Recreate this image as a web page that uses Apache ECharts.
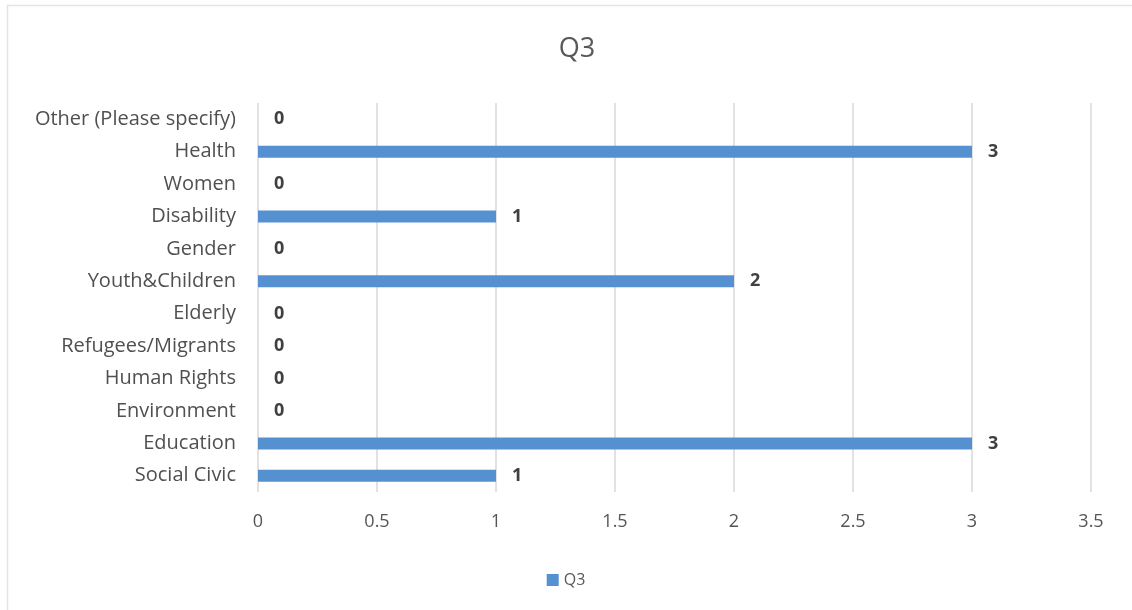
<!DOCTYPE html>
<html>
<head>
<meta charset="utf-8">
<script src="https://cdn.jsdelivr.net/npm/echarts@6/dist/echarts.min.js"></script>
<style>
html,body{margin:0;padding:0;background:#fff;}
#chart{width:1132px;height:610px;}
</style>
</head>
<body>
<div id="chart"></div>
<script>
const categories = ['Social Civic','Education','Environment','Human Rights','Refugees/Migrants','Elderly','Youth&Children','Gender','Disability','Women','Health','Other (Please specify)'];
const values = [1,3,0,0,0,0,2,0,1,0,3,0];
const seriesName = 'Q3';
const titleText = 'Q3';

const chart = echarts.init(document.getElementById('chart'));
const font = '"Open Sans", "Noto Sans", sans-serif';
chart.setOption({
  animation: false,
  graphic: [{
    type: 'rect',
    shape: {x: 7.5, y: 5.5, width: 1200, height: 700},
    style: {fill: 'none', stroke: '#e4e4e4', lineWidth: 1.5},
    silent: true
  }],
  title: {
    text: titleText,
    left: 572, top: 31, textAlign: 'center',
    textStyle: {fontFamily: font, fontSize: 27, fontWeight: 'normal', color: '#595959'}
  },
  legend: {
    data: [seriesName],
    left: 'center', top: 567,
    icon: 'rect', itemWidth: 12, itemHeight: 12, itemGap: 4,
    textStyle: {fontFamily: font, fontSize: 16, color: '#595959'}
  },
  grid: {left: 258, right: 41, top: 103, bottom: 118, containLabel: false},
  xAxis: {
    type: 'value', min: 0, max: 3.5, interval: 0.5,
    axisLine: {show: false}, axisTick: {show: false},
    splitLine: {lineStyle: {color: '#d9d9d9', width: 1.5}},
    axisLabel: {fontFamily: font, fontSize: 18, color: '#555555', margin: 21}
  },
  yAxis: {
    type: 'category', data: categories,
    axisLine: {show: false}, axisTick: {show: false},
    axisLabel: {fontFamily: font, fontSize: 20, color: '#505050', margin: 22}
  },
  series: [{
    name: seriesName, type: 'bar', data: values,
    barWidth: 12,
    itemStyle: {color: '#5591d0'},
    label: {show: true, position: 'right', distance: 16, fontFamily: font, fontSize: 18, fontWeight: 'bold', color: '#404040'}
  }]
});
</script>
</body>
</html>
